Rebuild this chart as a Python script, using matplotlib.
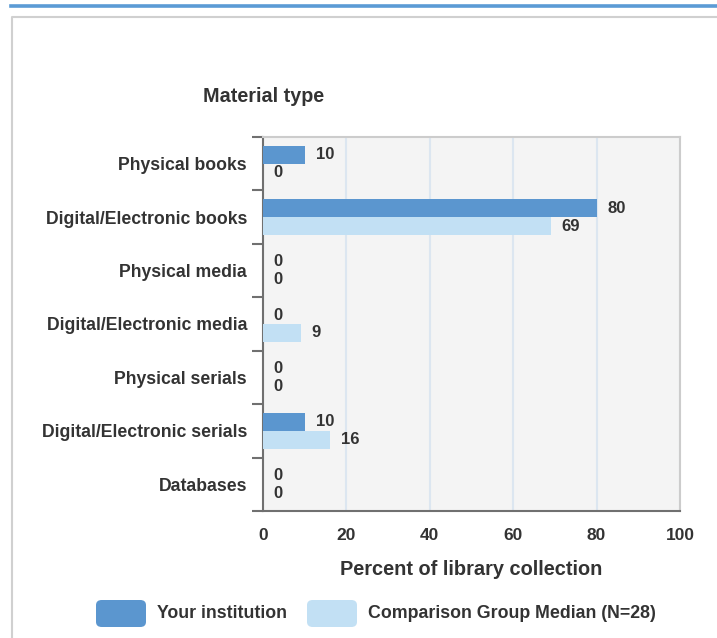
import numpy as np
import matplotlib.pyplot as plt
from matplotlib.patches import FancyBboxPatch
from matplotlib.lines import Line2D

plt.rcParams['font.family'] = ['Liberation Sans', 'DejaVu Sans']
plt.rcParams['font.weight'] = 'bold'

# Data
categories = ['Physical books', 'Digital/Electronic books', 'Physical media',
              'Digital/Electronic media', 'Physical serials',
              'Digital/Electronic serials', 'Databases']
your_inst = [10, 80, 0, 0, 0, 10, 0]
comparison = [0, 69, 0, 9, 0, 16, 0]
x_ticks = [0, 20, 40, 60, 80, 100]
series_names = ['Your institution', 'Comparison Group Median (N=28)']

c_dark = '#5b96cf'
c_light = '#c2e0f4'
txt = '#333333'

W, H = 717, 638
fig = plt.figure(figsize=(W / 100, H / 100), dpi=100)

# page decorations: blue band and panel border
fig.add_artist(Line2D([11 / W, 1], [1 - 5.5 / H, 1 - 5.5 / H], color='#5b9bd5', lw=2.6))
fig.add_artist(Line2D([11.5 / W, 11.5 / W, 1], [0, 1 - 16.5 / H, 1 - 16.5 / H],
                      color='#d0d0d0', lw=1.5))

ax = fig.add_axes([263 / W, 1 - 511 / H, (680 - 263) / W, (511 - 137) / H])
ax.set_facecolor('#f4f4f4')

n = len(categories)
ypos = np.arange(n)
bh = 0.335
ax.barh(ypos - bh / 2, your_inst, height=bh, color=c_dark, zorder=3)
ax.barh(ypos + bh / 2, comparison, height=bh, color=c_light, zorder=3)

for y, v in zip(ypos, your_inst):
    ax.text(v + 2.6, y - bh / 2, str(v), va='center', ha='left', fontsize=12,
            color=txt, fontweight='bold', zorder=4)
for y, v in zip(ypos, comparison):
    ax.text(v + 2.6, y + bh / 2, str(v), va='center', ha='left', fontsize=12,
            color=txt, fontweight='bold', zorder=4)

ax.set_xlim(0, 100)
ax.set_ylim(n - 0.5, -0.5)
ax.set_xticks(x_ticks)
ax.set_xticklabels([str(t) for t in x_ticks], fontsize=12.5, color=txt, fontweight='bold')
ax.tick_params(axis='x', length=0, pad=12.5)
ax.grid(axis='x', color='#dce6f0', lw=1.5, zorder=1)

# category boundaries as ticks, names at centers
ax.set_yticks(np.arange(n + 1) - 0.5)
ax.set_yticklabels([])
ax.tick_params(axis='y', which='major', length=8, width=1.5, color='#707070', direction='out')
ax.set_yticks(ypos, minor=True)
ax.set_yticklabels(categories, minor=True, fontsize=12.7, color=txt, fontweight='bold')
ax.tick_params(axis='y', which='minor', length=0, pad=11.5)

for side in ['left', 'bottom']:
    ax.spines[side].set_color('#707070')
    ax.spines[side].set_linewidth(1.5)
for side in ['top', 'right']:
    ax.spines[side].set_color('#cccccc')
    ax.spines[side].set_linewidth(1.5)

ax.set_xlabel('Percent of library collection', fontsize=14.4, color=txt,
              fontweight='bold', labelpad=12)
fig.text(264 / W, 1 - 97 / H, 'Material type', ha='center', va='center',
         fontsize=14.2, color=txt, fontweight='bold')

# legend
for x0, col, label in [(96, c_dark, series_names[0]), (307, c_light, series_names[1])]:
    box = FancyBboxPatch((x0 / W, 1 - 627 / H), 50 / W, 27 / H,
                         boxstyle='round,pad=0,rounding_size=0.008',
                         transform=fig.transFigure, facecolor=col, edgecolor='none')
    fig.add_artist(box)
    fig.text((x0 + 61) / W, 1 - 613 / H, label, ha='left', va='center',
             fontsize=12.8, color=txt, fontweight='bold')

fig.savefig('out.png', dpi=100)
